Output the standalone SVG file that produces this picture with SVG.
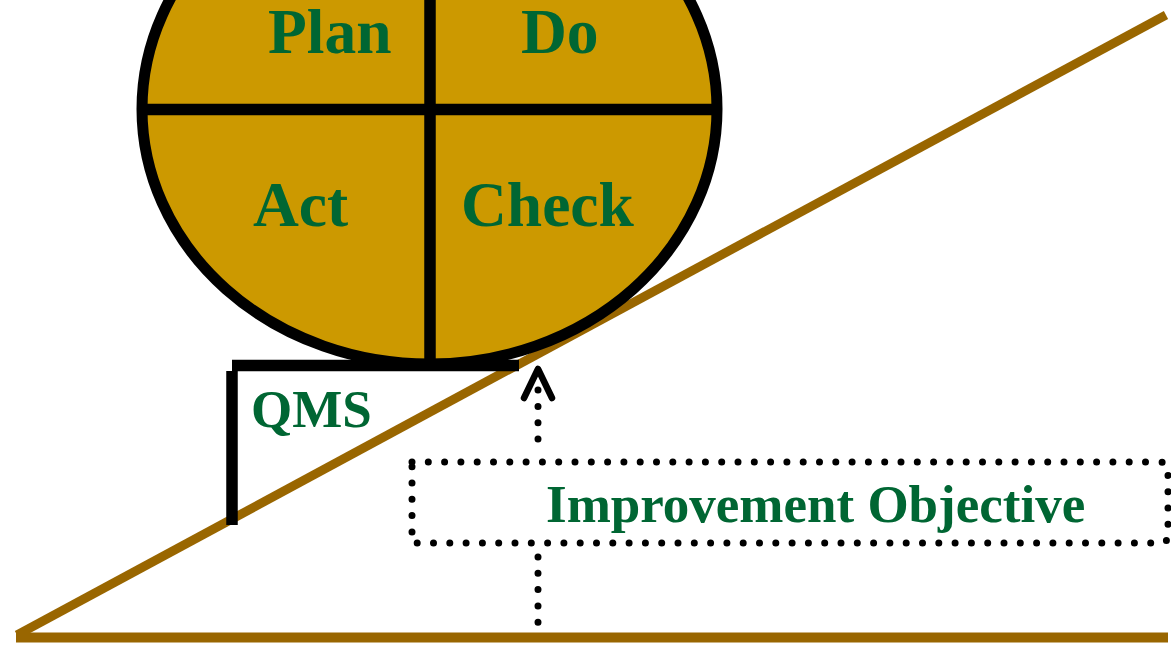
<svg xmlns="http://www.w3.org/2000/svg" width="1171" height="649" viewBox="0 0 1171 649">
<style>
.lbl{font-family:"Liberation Serif","Times New Roman",serif;font-weight:bold;fill:#006633}
.big{font-size:63.5px}
.mid{font-size:53px}
.ramp{stroke:#996600;fill:none}
.blk{stroke:#000;fill:none}
.dot{stroke:#000;fill:none;stroke-width:7;stroke-linecap:round;stroke-dasharray:0 16.3}
</style>
<rect width="1171" height="649" fill="#fff"/>
<g id="ramp">
<line class="ramp" x1="17" y1="635" x2="1166" y2="15" stroke-width="9"/>
<line class="ramp" x1="16" y1="637.5" x2="1168" y2="637.5" stroke-width="10"/>
</g>
<g id="pdca">
<ellipse cx="429.5" cy="109" rx="287.5" ry="255" fill="#CC9900" stroke="#000" stroke-width="11"/>
<line class="blk" x1="430" y1="-150" x2="430" y2="360" stroke-width="11.5"/>
<line class="blk" x1="142" y1="109.5" x2="717" y2="109.5" stroke-width="11.5"/>
<text class="lbl big" x="268" y="53">Plan</text>
<text class="lbl big" x="521" y="53">Do</text>
<text class="lbl big" x="253" y="226">Act</text>
<text class="lbl big" x="461" y="226">Check</text>
</g>
<g id="qms">
<line class="blk" x1="232" y1="371" x2="232" y2="525" stroke-width="11.5"/>
<line class="blk" x1="232" y1="365.5" x2="519" y2="365.5" stroke-width="11.5"/>
<text class="lbl mid" x="251" y="427">QMS</text>
</g>
<g id="objective">
<path class="dot" d="M412,462 H1160 Q1168,462 1168,470 V535 Q1168,543 1160,543 H412 Z"/>
<text class="lbl mid" x="546" y="522">Improvement Objective</text>
</g>
<g id="connectors">
<line class="dot" x1="538" y1="439" x2="538" y2="380"/>
<line class="dot" x1="538" y1="557" x2="538" y2="630"/>
<polyline points="524,398 538,369 552,398" fill="none" stroke="#000" stroke-width="6.5" stroke-linecap="round" stroke-linejoin="round"/>
</g>
</svg>
